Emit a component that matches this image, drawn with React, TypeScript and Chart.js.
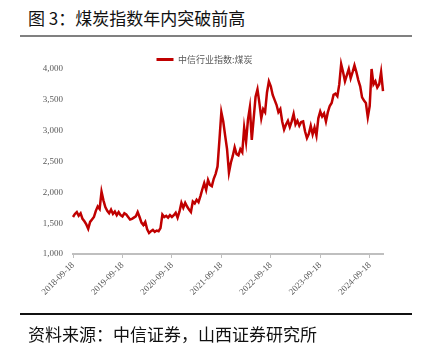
import React, { useEffect, useRef } from "react";
import { Chart, registerables } from "chart.js";

Chart.register(...registerables);

// biweekly observations starting 2018-09-18
const xTickLabels = ["2018-09-18", "2019-09-18", "2020-09-18", "2021-09-18", "2022-09-18", "2023-09-18", "2024-09-18"];
const xTickPositions = [0, 26, 52, 78, 104, 130, 156];
const seriesName = "中信行业指数:煤炭";
const yTicks = [1000, 1500, 2000, 2500, 3000, 3500, 4000];

const coalIndex = [
  // 2018-09 .. 2019-09
  1600, 1650, 1680, 1620, 1660, 1570, 1530, 1480, 1410, 1520, 1560, 1600, 1700,
  1770, 1730, 2010, 1870, 1760, 1700, 1660, 1720, 1650, 1690, 1630, 1680, 1630,
  // 2019-09 .. 2020-09
  1610, 1660, 1640, 1600, 1560, 1570, 1590, 1610, 1680, 1600, 1510, 1470, 1520,
  1400, 1340, 1370, 1390, 1360, 1380, 1370, 1420, 1640, 1600, 1620, 1590, 1630,
  // 2020-09 .. 2021-09
  1600, 1630, 1670, 1590, 1690, 1830, 1750, 1830, 1770, 1720, 1680, 1850, 1820,
  1880, 1840, 1940, 2050, 2150, 2040, 2200, 2120, 2100, 2220, 2300, 2420, 2850,
  // 2021-09 .. 2022-09
  3300, 3150, 2920, 2700, 2320, 2480, 2590, 2730, 2620, 2600, 2700, 2650, 3050,
  2820, 3180, 3380, 2850, 3200, 3550, 3670, 3450, 3200, 3350, 3300, 3620, 3800,
  // 2022-09 .. 2023-09
  3720, 3580, 3500, 3420, 3300, 3350, 3150, 3020, 3100, 3160, 3060, 3150, 3270,
  3100, 3160, 3080, 3140, 3150, 2990, 2880, 2950, 3080, 2940, 3050, 2920, 3200,
  // 2023-09 .. 2024-09
  3310, 3230, 3280, 3150, 3300, 3400, 3450, 3580, 3600, 3560, 3750, 4080, 3950,
  3800, 3900, 4000, 3850, 3950, 4060, 3950, 3820, 3720, 3540, 3490, 3450, 3220,
  // 2024-09 ..
  3400, 4000, 3750, 3800, 3700, 3750, 3950, 3640,
];

const CANVAS_W = 425;
const CANVAS_H = 275;

export default function App() {
  const ref = useRef<HTMLCanvasElement | null>(null);

  useEffect(() => {
    if (!ref.current) return;
    const legendShift = {
      id: "legendShift",
      afterUpdate(chart: any) {
        if (chart.legend) {
          chart.legend.top += 5;
          chart.legend.bottom += 5;
          chart.legend.left += 13;
          chart.legend.right += 13;
        }
      },
    };
    const chart = new Chart(ref.current, {
      type: "line",
      data: {
        datasets: [
          {
            label: seriesName,
            data: coalIndex.map((v, i) => ({ x: i, y: v })),
            borderColor: "#c00000",
            backgroundColor: "#c00000",
            borderWidth: 2.5,
            pointRadius: 0,
            tension: 0,
            clip: false as any,
          },
        ],
      },
      options: {
        responsive: false,
        animation: false,
        layout: { padding: { left: 0, right: 42, top: 0, bottom: 0 } },
        plugins: {
          tooltip: { enabled: false },
          legend: {
            display: true,
            position: "top",
            labels: {
              boxWidth: 17,
              boxHeight: 3,
              padding: 10,
              color: "#595959",
              font: { family: "'Noto Sans CJK SC', sans-serif", size: 9 },
              generateLabels: (c: any) =>
                Chart.defaults.plugins.legend.labels.generateLabels(c).map((l: any) => ({
                  ...l,
                  lineWidth: 0,
                  fillStyle: "#c00000",
                })),
            },
          },
        },
        scales: {
          x: {
            type: "linear",
            min: 0,
            max: coalIndex.length - 1,
            afterBuildTicks: (s: any) => {
              s.ticks = xTickPositions.map((v) => ({ value: v }));
            },
            afterFit: (s: any) => {
              s.height = CANVAS_H - 214;
            },
            ticks: {
              autoSkip: false,
              minRotation: 45,
              maxRotation: 45,
              padding: 2,
              color: "#595959",
              font: { family: "'Liberation Serif', serif", size: 9 },
              callback: (v: any) => {
                const k = xTickPositions.indexOf(Number(v));
                return k >= 0 ? xTickLabels[k] : null;
              },
            },
            grid: {
              display: true,
              drawOnChartArea: false,
              drawTicks: true,
              tickLength: 4,
              color: "#bfbfbf",
              lineWidth: 1,
            },
            border: { display: true, color: "#bfbfbf", width: 2 },
          },
          y: {
            type: "linear",
            min: 1000,
            max: 4000,
            afterBuildTicks: (s: any) => {
              s.ticks = yTicks.map((v) => ({ value: v }));
            },
            afterFit: (s: any) => {
              s.width = 73;
            },
            ticks: {
              padding: 10,
              color: "#595959",
              font: { family: "'Liberation Serif', serif", size: 9 },
              callback: (v: any) => Number(v).toLocaleString("en-US"),
            },
            grid: { display: false, drawTicks: false },
            border: { display: false },
          },
        },
      } as any,
      plugins: [legendShift],
    });
    return () => chart.destroy();
  }, []);

  const cjk = "'Noto Sans CJK SC', 'Noto Sans', sans-serif";

  return (
    <div
      style={{
        position: "absolute",
        left: 0,
        top: 0,
        width: 425,
        height: 352,
        background: "#fff",
        overflow: "hidden",
      }}
    >
      <div
        style={{
          position: "absolute",
          left: 28,
          top: 8,
          fontSize: 17,
          lineHeight: "20px",
          fontFamily: cjk,
          color: "#111",
          whiteSpace: "nowrap",
        }}
      >
        图 3：煤炭指数年内突破前高
      </div>
      <div style={{ position: "absolute", left: 20, top: 35, width: 392, height: 1.5, background: "#808080" }} />
      <canvas
        ref={ref}
        width={CANVAS_W}
        height={CANVAS_H}
        style={{ position: "absolute", left: 0, top: 40, width: CANVAS_W, height: CANVAS_H }}
      />
      <div style={{ position: "absolute", left: 20, top: 313, width: 392, height: 1.5, background: "#111" }} />
      <div
        style={{
          position: "absolute",
          left: 28,
          top: 324,
          fontSize: 17,
          lineHeight: "20px",
          fontFamily: cjk,
          color: "#111",
          whiteSpace: "nowrap",
        }}
      >
        资料来源：中信证券，山西证券研究所
      </div>
    </div>
  );
}
